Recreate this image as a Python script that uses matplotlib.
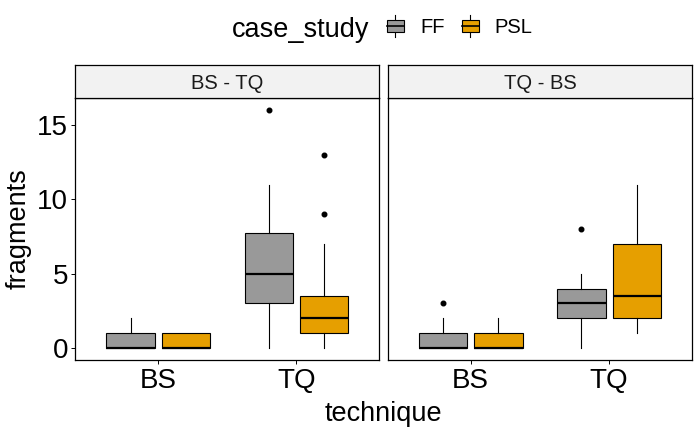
import matplotlib
matplotlib.use("Agg")
import matplotlib.pyplot as plt
from matplotlib.patches import Patch, Rectangle
from matplotlib.lines import Line2D
from matplotlib.legend_handler import HandlerBase

plt.rcParams['font.family'] = ['Liberation Sans', 'DejaVu Sans']

# ---- data ----
panels = ["BS - TQ", "TQ - BS"]
techniques = ["BS", "TQ"]
case_studies = ["FF", "PSL"]
colors = ["#999999", "#E69F00"]

# indexed [panel][technique][case_study]
q1 = [[[0, 0], [3, 1]], [[0, 0], [2, 2]]]
med = [[[0, 0], [5, 2]], [[0, 0], [3, 3.5]]]
q3 = [[[1, 1], [7.75, 3.5]], [[1, 1], [4, 7]]]
whislo = [[[0, 0], [0, 0]], [[0, 0], [0, 1]]]
whishi = [[[2, 1], [11, 7]], [[2, 2], [5, 11]]]
fliers = [[[[], []], [[16], [13, 9]]], [[[3], []], [[8], []]]]

yticks = [0, 5, 10, 15]

W, H = 700, 432
fig = plt.figure(figsize=(W / 100, H / 100), dpi=100)

def fx(px):
    return px / W

def fy(py):
    return 1 - py / H

panel_x = [(75.3, 379.3), (387.5, 692.3)]
top, bottom = 98.3, 360.0
strip_top = 65.3

dodge = 0.4
bw = 0.35

for p, (x0, x1) in enumerate(panel_x):
    ax = fig.add_axes([fx(x0), fy(bottom), fx(x1 - x0), (bottom - top) / H])
    for c, cs in enumerate(case_studies):
        stats = []
        pos = []
        for t, tech in enumerate(techniques):
            stats.append(dict(q1=q1[p][t][c], med=med[p][t][c], q3=q3[p][t][c],
                              whislo=whislo[p][t][c], whishi=whishi[p][t][c],
                              fliers=fliers[p][t][c], label=tech))
            pos.append(t + 1 + (c - 0.5) * dodge)
        ax.bxp(stats, positions=pos, widths=bw, patch_artist=True,
               showcaps=False, manage_ticks=False,
               boxprops=dict(facecolor=colors[c], edgecolor='black', linewidth=0.8),
               medianprops=dict(color='black', linewidth=1.6),
               whiskerprops=dict(color='black', linewidth=0.8),
               flierprops=dict(marker='o', markerfacecolor='black',
                               markeredgecolor='black', markersize=3.3),
               zorder=3)
    ax.set_xlim(0.4, 2.6)
    ax.set_ylim(-0.8, 16.8)
    ax.set_xticks([1, 2])
    ax.set_xticklabels(techniques)
    ax.set_yticks(yticks)
    for s in ax.spines.values():
        s.set_linewidth(0.9)
        s.set_color('black')
    ax.tick_params(axis='x', length=3, width=0.7, labelsize=20, pad=3, colors='black')
    if p == 0:
        ax.tick_params(axis='y', length=3, width=0.7, labelsize=20, pad=2, colors='black')
    else:
        ax.tick_params(axis='y', left=False, labelleft=False)
    ax.grid(False)

    # strip
    sax = fig.add_axes([fx(x0), fy(top), fx(x1 - x0), (top - strip_top) / H])
    sax.set_facecolor('#F2F2F2')
    sax.set_xticks([])
    sax.set_yticks([])
    for s in sax.spines.values():
        s.set_linewidth(0.9)
        s.set_color('black')
    sax.text(0.5, 0.45, panels[p], ha='center', va='center', fontsize=14.5,
             color='#1A1A1A', transform=sax.transAxes)

fig.text(fx(19), fy(229), "fragments", rotation=90, ha='center', va='center', fontsize=19.5)
fig.text(fx(383.5), fy(421), "technique", ha='center', va='baseline', fontsize=19.5)

# legend
class BoxHandler(HandlerBase):
    def create_artists(self, legend, orig_handle, xdescent, ydescent, width, height, fontsize, trans):
        cx = -xdescent + width / 2
        ln = Line2D([cx, cx], [-ydescent - height * 0.35, -ydescent + height * 1.35],
                    color='black', linewidth=0.8, transform=trans)
        r = Rectangle((-xdescent, -ydescent), width, height,
                      facecolor=orig_handle.get_facecolor(), edgecolor='black',
                      linewidth=0.8, transform=trans)
        m = Line2D([-xdescent, -xdescent + width], [-ydescent + height / 2] * 2,
                   color='black', linewidth=1.2, transform=trans)
        return [ln, r, m]

handles = [Patch(facecolor=col) for col in colors]
fig.text(fx(232), fy(37), "case_study", ha='left', va='baseline', fontsize=19.5)
fig.legend(handles, case_studies, handler_map={Patch: BoxHandler()},
           loc='center left', bbox_to_anchor=(fx(386.7), fy(27.5)), ncol=2,
           frameon=False, fontsize=14.5, borderpad=0, borderaxespad=0,
           handlelength=0.85, handleheight=0.6, handletextpad=0.8,
           columnspacing=0.85)

fig.savefig("out.png", dpi=100)
